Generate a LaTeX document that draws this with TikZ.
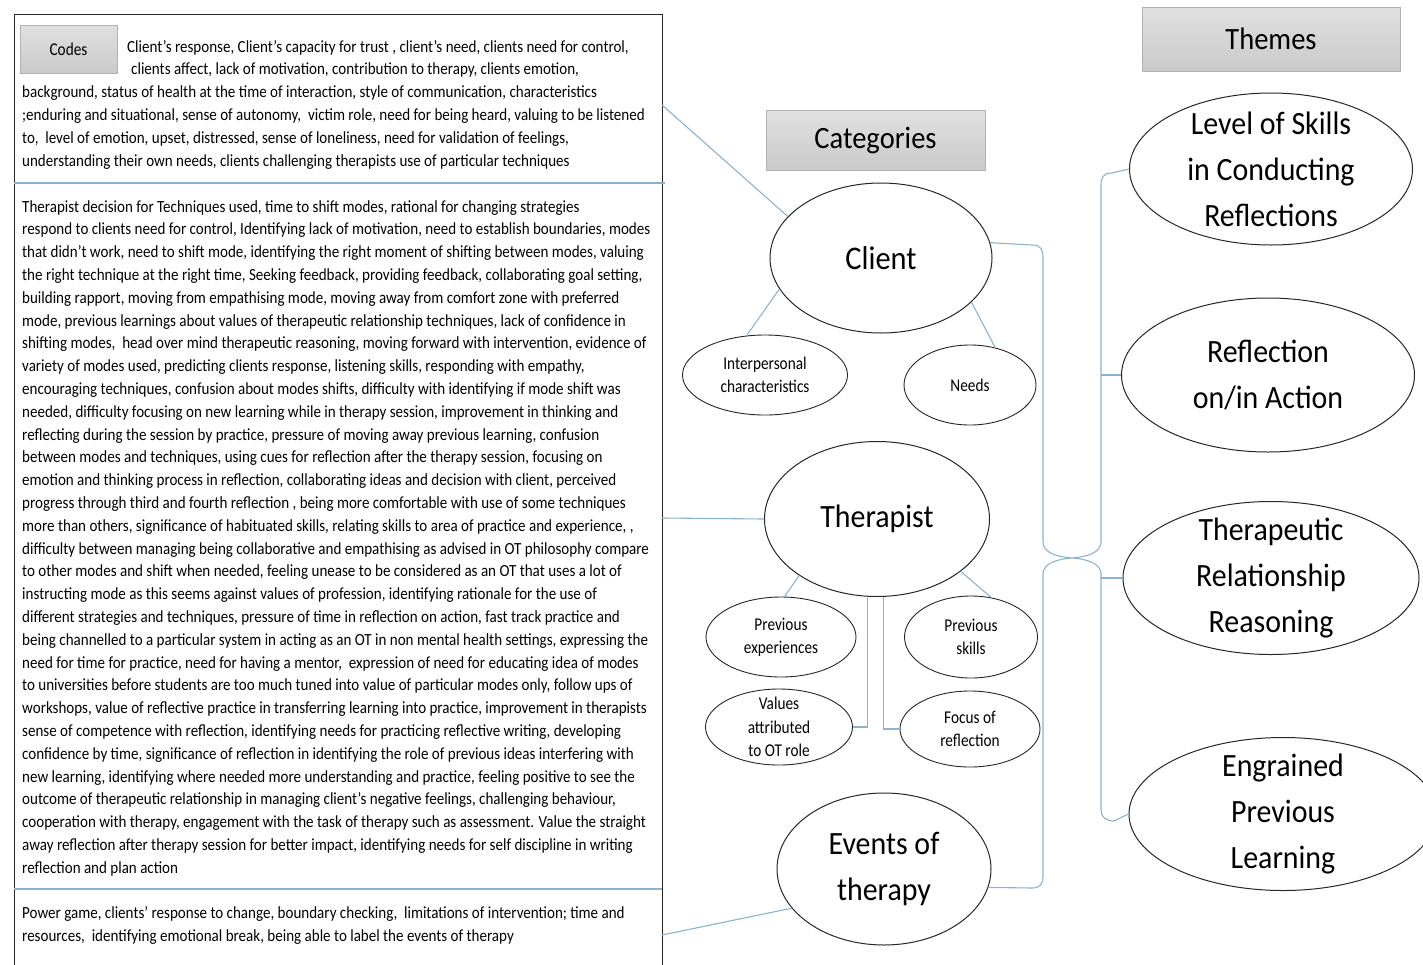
\documentclass[tikz,border=0pt]{standalone}
\usepackage{fontspec}
\setmainfont{Carlito}[FakeStretch=0.92]
\newfontfamily\smallfont{Carlito}[FakeStretch=0.85]
\newfontfamily\bodyfont{Carlito}[FakeStretch=0.885]
\usetikzlibrary{shapes.geometric}
\definecolor{linkblue}{RGB}{140,178,204}
\newcommand{\bigtext}{\fontsize{32.5}{46}\selectfont}
\newcommand{\clienttext}{\fontsize{33}{40}\selectfont}
\newcommand{\headtext}{\fontsize{31}{36}\selectfont}
\newcommand{\smalltext}{\smallfont\fontsize{18}{23.5}\selectfont}
\newcommand{\codetext}{\bodyfont\fontsize{17}{22.8}\selectfont}

\begin{document}
\begin{tikzpicture}[x=1pt,y=-1pt,
        cat/.style={ellipse,draw=black!85,line width=1pt,inner xsep=0pt,inner ysep=-16pt,align=center,font=\bigtext},
        sub/.style={cat,line width=0.9pt,font=\smalltext},
        head/.style={draw=gray!60,top color=gray!24,bottom color=gray!42,inner sep=0pt},
        link/.style={draw=linkblue,line width=1.1pt},
        codes/.style={anchor=north west,inner sep=0pt,align=left,font=\codetext}]
        \useasboundingbox (0,0) rectangle (1423,964);

        % codes column
        \node[draw=black!85,line width=1.2pt,minimum width=648pt,minimum height=975pt,anchor=north west,inner sep=0pt] (codebox) at (14,14) {};
        \node[head,minimum width=97pt,minimum height=48pt,font=\smalltext] (codeshd) at (68.5,49) {Codes};
        \node[codes] (clientcodes) at (22,40) {\hspace*{105pt}Client’s response, Client’s capacity for trust , client’s need, clients need for control,\\
            \hspace*{109pt}clients affect, lack of motivation, contribution to therapy, clients emotion,\\
            background, status of health at the time of interaction, style of communication, characteristics\\
            ;enduring and situational, sense of autonomy,\ \ victim role, need for being heard, valuing to be listened\\
            to,\ \ level of emotion, upset, distressed, sense of loneliness, need for validation of feelings,\\
            understanding their own needs, clients challenging therapists use of particular techniques};
        \node[codes] (thercodes) at (22,200) {Therapist decision for Techniques used, time to shift modes, rational for changing strategies\\
            respond to clients need for control, Identifying lack of motivation, need to establish boundaries, modes\\
            that didn’t work, need to shift mode, identifying the right moment of shifting between modes, valuing\\
            the right technique at the right time, Seeking feedback, providing feedback, collaborating goal setting,\\
            building rapport, moving from empathising mode, moving away from comfort zone with preferred\\
            mode, previous learnings about values of therapeutic relationship techniques, lack of confidence in\\
            shifting modes,\ \ head over mind therapeutic reasoning, moving forward with intervention, evidence of\\
            variety of modes used, predicting clients response, listening skills, responding with empathy,\\
            encouraging techniques, confusion about modes shifts, difficulty with identifying if mode shift was\\
            needed, difficulty focusing on new learning while in therapy session, improvement in thinking and\\
            reflecting during the session by practice, pressure of moving away previous learning, confusion\\
            between modes and techniques, using cues for reflection after the therapy session, focusing on\\
            emotion and thinking process in reflection, collaborating ideas and decision with client, perceived\\
            progress through third and fourth reflection , being more comfortable with use of some techniques\\
            more than others, significance of habituated skills, relating skills to area of practice and experience, ,\\
            difficulty between managing being collaborative and empathising as advised in OT philosophy compare\\
            to other modes and shift when needed, feeling unease to be considered as an OT that uses a lot of\\
            instructing mode as this seems against values of profession, identifying rationale for the use of\\
            different strategies and techniques, pressure of time in reflection on action, fast track practice and\\
            being channelled to a particular system in acting as an OT in non mental health settings, expressing the\\
            need for time for practice, need for having a mentor,\ \ expression of need for educating idea of modes\\
            to universities before students are too much tuned into value of particular modes only, follow ups of\\
            workshops, value of reflective practice in transferring learning into practice, improvement in therapists\\
            sense of competence with reflection, identifying needs for practicing reflective writing, developing\\
            confidence by time, significance of reflection in identifying the role of previous ideas interfering with\\
            new learning, identifying where needed more understanding and practice, feeling positive to see the\\
            outcome of therapeutic relationship in managing client’s negative feelings, challenging behaviour,\\
            cooperation with therapy, engagement with the task of therapy such as assessment. Value the straight\\
            away reflection after therapy session for better impact, identifying needs for self discipline in writing\\
            reflection and plan action};
        \node[codes] (eventcodes) at (22,906) {Power game, clients’ response to change, boundary checking,\ \ limitations of intervention; time and\\
            resources,\ \ identifying emotional break, being able to label the events of therapy};
        \draw[link] (14,183) -- (665,183);
        \draw[link] (14,889) -- (662,889);

        % categories
        \node[head,minimum width=219pt,minimum height=60pt,font=\headtext] (cathd) at (875.5,140) {Categories};
        \node[cat,minimum width=222pt,minimum height=150pt,font=\clienttext] (client) at (881,258) {Client};
        \node[sub,minimum width=165pt,minimum height=80pt] (intp) at (765,375) {Interpersonal\\characteristics};
        \node[sub,minimum width=132pt,minimum height=80pt] (needs) at (970,385) {Needs};
        \node[cat,minimum width=225pt,minimum height=155pt] (ther) at (877,519) {Therapist};
        \node[sub,minimum width=150pt,minimum height=80pt] (prevexp) at (781,637) {Previous\\experiences};
        \node[sub,minimum width=133pt,minimum height=82pt] (prevsk) at (971,637) {Previous\\skills};
        \node[sub,minimum width=147pt,minimum height=76pt] (values) at (779,727) {Values\\attributed\\to OT role};
        \node[sub,minimum width=140pt,minimum height=76pt] (focus) at (970,729) {Focus of\\reflection};
        \node[cat,minimum width=214pt,minimum height=152pt] (events) at (884,869) {Events of\\therapy};

        % themes
        \node[head,minimum width=258pt,minimum height=64pt,font=\headtext] (themhd) at (1271,39) {Themes};
        \node[cat,minimum width=283pt,minimum height=152pt] (lvl) at (1271,169) {Level of Skills\\in Conducting\\Reflections};
        \node[cat,minimum width=293pt,minimum height=154pt] (refl) at (1268,375) {Reflection\\on/in Action};
        \node[cat,minimum width=296pt,minimum height=153pt] (thera) at (1271,578) {Therapeutic\\Relationship\\Reasoning};
        \node[cat,minimum width=308pt,minimum height=153pt] (engr) at (1283,814) {Engrained\\Previous\\Learning};

        \coordinate (clientout) at (662,105);
        \coordinate (therout) at (662,518);
        \coordinate (eventsout) at (662,935);
        \coordinate (tip) at (1072,558);
        \coordinate (spine) at (1101,558);

        \path[link] (clientout) edge (client.156)
                    (therout) edge (ther.west)
                    (eventsout) edge (events.203)
                    (client.197) edge (intp.115)
                    (client.334) edge (needs.56)
                    (ther.216) edge (prevexp.85)
                    (ther.328) edge (prevsk.63);
        \draw[link] (values.east) -| (ther.263);
        \draw[link] (focus.west) -| (ther.275);

        % braces
        \draw[link] (client.8) -- (1032,245) .. controls (1040,245) and (1043,249) .. (1043,257) -- (1043,542)
            .. controls (1043,553) and (1058,557) .. (tip) .. controls (1058,559) and (1043,563) .. (1043,574)
            -- (1043,876) .. controls (1043,884) and (1040,888) .. (1032,888) -- (events.350);
        \draw[link] (lvl.west) -- (1112,173) .. controls (1104,173) and (1101,177) .. (1101,185) -- (1101,542)
            .. controls (1101,553) and (1086,557) .. (tip) .. controls (1086,559) and (1101,563) .. (1101,574)
            -- (1101,810) .. controls (1101,817) and (1106,821) .. (1114,821) -- (engr.west);
        \path[link] (spine |- refl.west) edge (refl.west)
                    (spine |- thera.west) edge (thera.west);
\end{tikzpicture}
\end{document}
